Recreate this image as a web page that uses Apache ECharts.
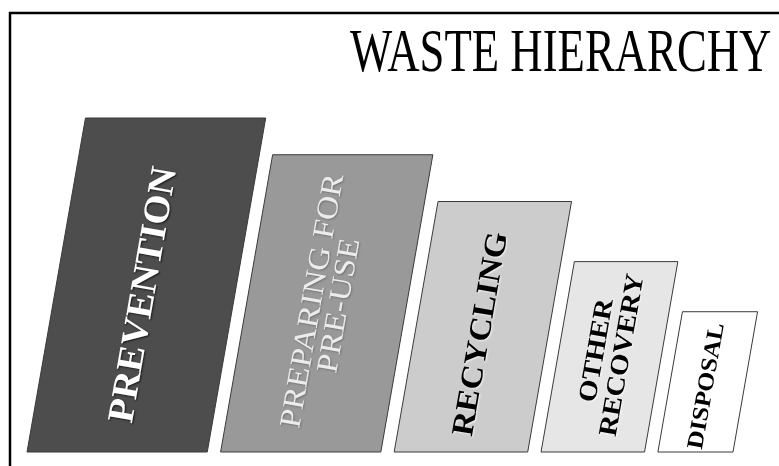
<!DOCTYPE html>
<html>
<head>
<meta charset="utf-8">
<script src="https://cdn.jsdelivr.net/npm/echarts@6/dist/echarts.min.js"></script>
<style>html,body{margin:0;padding:0;background:#fff;}#c{width:779px;height:466px;}</style>
</head>
<body>
<div id="c"></div>
<script>
// ---- data ----
const categories = ['PREVENTION', 'PREPARING FOR\nPRE-USE', 'RECYCLING', 'OTHER\nRECOVERY', 'DISPOSAL'];
const heights = [100, 89, 75, 57, 42];
const widths = [54, 48, 40, 31, 22.5];
const titleText = 'WASTE HIERARCHY';

// ---- styles ----
const GAP = 4;          // gap between steps (axis units)
const SHEAR = 0.175;    // horizontal lean per pixel of height
const fills = ['#4d4d4d', '#999999', '#cccccc', '#e6e6e6', '#ffffff'];
const labelStyles = [
  {fontSize: 37, fontWeight: 'bold', fill: '#ffffff', scaleX: 1.05, lineHeight: 37, shadow: 'rgba(0,0,0,0.7)'},
  {fontSize: 30, fontWeight: 'normal', fill: '#ececec', scaleX: 1.12, lineHeight: 27, shadow: 'rgba(0,0,0,0.25)'},
  {fontSize: 31, fontWeight: 'bold', fill: '#000000', scaleX: 1.09, lineHeight: 31, shadow: 'rgba(255,255,255,0.8)'},
  {fontSize: 26, fontWeight: 'bold', fill: '#000000', scaleX: 1.11, lineHeight: 26, shadow: 'rgba(255,255,255,0.8)'},
  {fontSize: 23, fontWeight: 'bold', fill: '#000000', scaleX: 1.11, lineHeight: 23, shadow: 'rgba(255,255,255,0.8)'}
];
const labelFrac = [0.47, 0.5, 0.47, 0.52, 0.47];

// build data table: [start, width, height]
const table = [];
let pos = 0;
for (let i = 0; i < categories.length; i++) {
  table.push([pos, widths[i], heights[i]]);
  pos += widths[i] + GAP;
}
const xMax = pos - GAP;

const chart = echarts.init(document.getElementById('c'), null, {renderer: 'canvas'});

function renderItem(params, api) {
  const i = params.dataIndex;
  const s = api.value(0), w = api.value(1), h = api.value(2);
  const bl = api.coord([s, 0]);
  const br = api.coord([s + w, 0]);
  const tl = api.coord([s, h]);
  const tr = api.coord([s + w, h]);
  const dx = SHEAR * (bl[1] - tl[1]);
  const pts = [bl, br, [tr[0] + dx, tr[1]], [tl[0] + dx, tl[1]]];
  const c = api.coord([s + w / 2, h * labelFrac[i]]);
  const cx = c[0] + SHEAR * (bl[1] - c[1]);
  const ls = labelStyles[i];
  return {
    type: 'group',
    children: [
      {
        type: 'polygon',
        shape: {points: pts},
        style: {fill: fills[i], stroke: '#3a3a3a', lineWidth: 1}
      },
      {
        type: 'text',
        x: cx,
        y: c[1],
        rotation: Math.atan2(1, SHEAR),
        scaleX: ls.scaleX,
        style: {
          text: categories[i],
          fill: ls.fill,
          fontSize: ls.fontSize,
          fontWeight: ls.fontWeight,
          fontFamily: '"Liberation Serif", "DejaVu Serif", serif',
          align: 'center',
          verticalAlign: 'middle',
          lineHeight: ls.lineHeight,
          textShadowColor: ls.shadow,
          textShadowBlur: 2,
          textShadowOffsetX: 1,
          textShadowOffsetY: 1
        }
      }
    ]
  };
}

chart.setOption({
  animation: false,
  backgroundColor: '#ffffff',
  grid: {left: 27, right: 46, top: 118, bottom: 14},
  xAxis: {type: 'value', min: 0, max: xMax, show: false},
  yAxis: {type: 'value', min: 0, max: 100, show: false},
  graphic: [
    {
      type: 'rect',
      shape: {x: 10, y: 13, width: 820, height: 520},
      style: {fill: null, stroke: '#000000', lineWidth: 2.5},
      silent: true
    },
    {
      type: 'text',
      x: 350,
      y: 55,
      scaleX: 1.017,
      scaleY: 1.37,
      style: {
        text: titleText,
        fill: '#000000',
        fontSize: 44,
        fontFamily: '"Liberation Serif", "DejaVu Serif", serif',
        align: 'left',
        verticalAlign: 'middle'
      }
    }
  ],
  series: [{
    type: 'custom',
    renderItem: renderItem,
    data: table,
    clip: false
  }]
});
</script>
</body>
</html>
